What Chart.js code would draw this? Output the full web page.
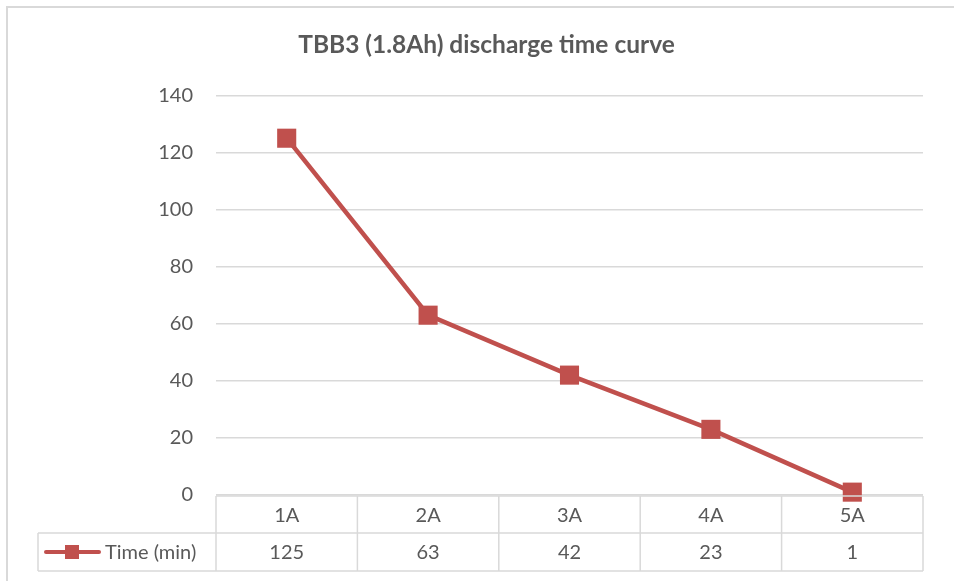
<!DOCTYPE html>
<html>
<head>
<meta charset="utf-8">
<script src="https://cdn.jsdelivr.net/npm/chart.js@4"></script>
<style>
  html, body { margin: 0; padding: 0; background: #ffffff; }
  #wrap { width: 954px; height: 581px; position: relative; }
</style>
</head>
<body>
<div id="wrap"><canvas id="chart" width="954" height="581"></canvas></div>
<script>
// chart data
const categories = ["1A", "2A", "3A", "4A", "5A"];
const timeValues = [125, 63, 42, 23, 1];
const seriesName = "Time (min)";
const yTicks = [0, 20, 40, 60, 80, 100, 120, 140];

const FONT = "Lato, 'Open Sans', sans-serif";
const lineColor = "#C0504D";
const gridColor = "#d9d9d9";
const textColor = "#595959";

// draws the outer frame and the data table under the plot
const tablePlugin = {
  id: "dataTable",
  afterDraw: function (chart) {
    const ctx = chart.ctx;
    const xs = chart.scales.x;
    const area = chart.chartArea;
    const n = categories.length;
    const colW = (area.right - area.left) / n;
    const top = area.bottom + 1;
    const mid = top + 37;
    const bottom = mid + 38;
    const legendLeft = 38;

    ctx.save();
    // outer frame
    ctx.strokeStyle = gridColor;
    ctx.lineWidth = 2;
    ctx.beginPath();
    ctx.moveTo(7, 581);
    ctx.lineTo(7, 7);
    ctx.lineTo(954, 7);
    ctx.stroke();

    // table lines
    ctx.lineWidth = 1.5;
    ctx.beginPath();
    ctx.moveTo(area.left, top);
    ctx.lineTo(area.right, top);
    ctx.moveTo(legendLeft, mid);
    ctx.lineTo(area.right, mid);
    ctx.moveTo(legendLeft, bottom);
    ctx.lineTo(area.right, bottom);
    ctx.moveTo(legendLeft, mid);
    ctx.lineTo(legendLeft, bottom);
    for (let i = 0; i <= n; i++) {
      const x = area.left + i * colW;
      ctx.moveTo(x, top);
      ctx.lineTo(x, bottom);
    }
    ctx.stroke();

    // text in cells
    ctx.fillStyle = textColor;
    ctx.font = "20px " + FONT;
    ctx.textAlign = "center";
    ctx.textBaseline = "middle";
    for (let i = 0; i < n; i++) {
      const cx = xs.getPixelForValue(i);
      ctx.fillText(categories[i], cx, (top + mid) / 2 + 1);
      ctx.fillText(String(timeValues[i]), cx, (mid + bottom) / 2 + 1);
    }

    // legend key
    const ly = (mid + bottom) / 2;
    ctx.strokeStyle = lineColor;
    ctx.lineWidth = 4;
    ctx.lineCap = "round";
    ctx.beginPath();
    ctx.moveTo(46, ly);
    ctx.lineTo(99, ly);
    ctx.stroke();
    ctx.fillStyle = lineColor;
    ctx.fillRect(65, ly - 7, 14, 14);
    ctx.fillStyle = textColor;
    ctx.textAlign = "left";
    ctx.fillText(seriesName, 105, ly + 1);
    ctx.restore();
  }
};

new Chart(document.getElementById("chart"), {
  type: "line",
  data: {
    labels: categories,
    datasets: [
      {
        label: seriesName,
        data: timeValues,
        borderColor: lineColor,
        backgroundColor: lineColor,
        borderWidth: 4.5,
        pointStyle: "rect",
        pointRadius: 13.5,
        pointHoverRadius: 13.5,
        pointBorderWidth: 0,
        tension: 0,
        clip: false
      }
    ]
  },
  options: {
    responsive: false,
    animation: false,
    layout: { padding: { left: 50, right: 31, top: 0, bottom: 86 } },
    plugins: {
      legend: { display: false },
      tooltip: { enabled: false },
      title: {
        display: true,
        text: "TBB3 (1.8Ah) discharge time curve",
        color: textColor,
        font: { family: FONT, size: 24.5, weight: "bold" },
        padding: { top: 30, bottom: 36 }
      }
    },
    scales: {
      x: {
        offset: true,
        grid: { display: false, drawTicks: false },
        border: { display: false },
        ticks: { display: false }
      },
      y: {
        min: 0,
        max: 140,
        afterBuildTicks: function (scale) {
          scale.ticks = yTicks.map(function (v) { return { value: v }; });
        },
        afterFit: function (scale) {
          scale.width = 166;
        },
        grid: { color: gridColor, lineWidth: 1.5, drawTicks: false },
        border: { display: false },
        ticks: {
          color: textColor,
          padding: 23,
          font: { family: FONT, size: 20 }
        }
      }
    }
  },
  plugins: [tablePlugin]
});
</script>
</body>
</html>
